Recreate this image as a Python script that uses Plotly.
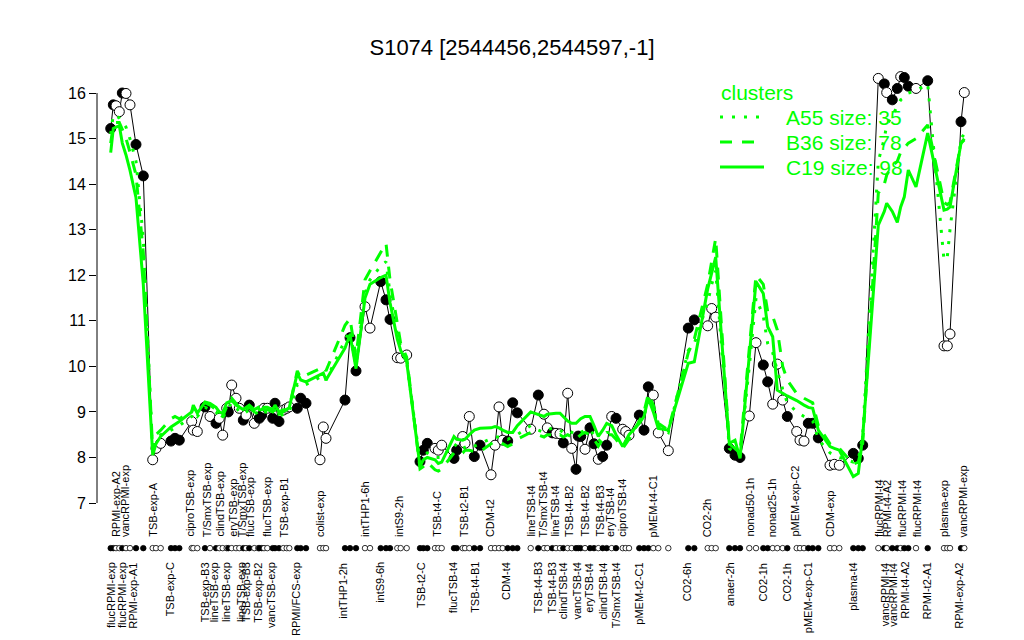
import plotly.graph_objects as go

chart_title = "S1074 [2544456,2544597,-1]"

# sample positions along the x axis (ordered as in the plot)
pos = [110.7, 113.3, 116.0, 119.3, 122.3, 126.0, 130.0, 136.0, 143.3,
       152.7, 156.0, 160.7,
       171.0, 175.0, 179.3,
       191.7, 193.3, 197.3,
       205.0, 210.0, 216.0, 219.3, 222.7, 226.7, 228.3, 231.7, 236.0, 239.3, 243.3, 246.0, 249.3,
       254.3, 258.3, 259.3, 261.7, 264.0, 267.3, 272.7, 275.0, 279.0, 283.3, 286.7, 289.3,
       297.3, 300.7, 306.0,
       320.0, 323.3, 326.0,
       345.0, 350.0, 356.0,
       365.0, 370.0,
       380.7, 386.0, 390.0,
       397.3, 400.7, 406.7,
       420.0, 423.3, 427.3,
       435.0, 438.3, 441.7,
       454.0, 456.7, 462.7, 465.0, 469.3, 474.3, 480.0,
       491.0, 495.0, 499.0, 502.7, 507.7, 512.7, 517.3,
       530.7, 538.3, 544.0, 547.3, 552.3, 556.0, 560.0, 563.3, 567.7, 571.7, 576.0, 578.3,
       580.7, 585.0, 590.0, 594.0, 598.3, 602.7, 606.7, 611.7, 616.0, 622.7, 625.7, 629.0,
       639.3, 644.0, 648.3, 653.3, 658.3, 668.3,
       688.3, 694.3,
       707.7, 711.7, 715.7,
       729.3, 735.0, 740.0,
       749.3, 756.0,
       763.3, 767.7,
       772.7, 777.3, 782.7, 787.3,
       796.7, 800.0, 804.0, 808.3, 812.7, 818.3,
       830.0, 834.3, 839.3,
       853.3, 858.3, 862.7,
       878.3, 884.3, 886.7, 892.3, 897.3, 900.7, 904.3, 908.3, 916.0, 927.7,
       944.0, 947.3, 950.0,
       961.0, 964.3]

# expression of this gene per sample
expr = [15.22, 15.74, 15.72, 15.59, 16.00, 15.99, 15.74, 14.87, 14.18,
        7.95, 8.20, 8.31,
        8.36, 8.42, 8.38,
        8.79, 8.60, 8.57,
        9.11, 8.90, 8.75, 8.86, 8.49, 9.08, 9.00, 9.59, 9.30, 9.08, 8.82, 8.93, 9.15,
        8.75, 8.97, 8.86, 8.93, 9.08, 9.08, 8.86, 9.19, 8.79, 9.04, 9.08, 9.11,
        9.08, 9.30, 9.19,
        7.95, 8.67, 8.42,
        9.26, 10.63, 9.90,
        11.31, 10.84,
        11.86, 11.46, 11.03,
        10.19, 10.18, 10.25,
        7.91, 8.16, 8.31,
        8.20, 8.16, 8.27,
        7.98, 8.16, 8.46, 8.31, 8.90, 8.02, 8.27,
        7.62, 8.27, 9.11, 8.38, 8.36, 9.20, 8.98,
        8.62, 9.37, 8.95, 8.65, 8.54, 8.53, 8.52, 8.32, 9.41, 8.20, 7.74, 8.47,
        8.46, 8.18, 8.65, 8.30, 7.96, 8.02, 8.27, 8.90, 8.86, 8.62, 8.57, 8.49,
        8.93, 8.60, 9.55, 9.37, 8.54, 8.15,
        10.84, 11.02,
        10.89, 11.27, 11.08,
        8.20, 8.05, 8.00,
        8.91, 10.52,
        10.03, 9.66,
        9.17, 10.05, 9.26, 8.90,
        8.57, 8.38, 8.36, 8.75, 8.75, 8.43,
        7.83, 7.85, 7.83,
        8.09, 7.98, 8.27,
        16.32, 16.20, 16.01, 15.85, 16.10, 16.36, 16.34, 16.15, 16.10, 16.27,
        10.45, 10.45, 10.71,
        15.37, 16.01]

# 1 = filled marker, 0 = open marker
filled = [1, 1, 0, 0, 1, 0, 0, 1, 1,
          0, 0, 0,
          1, 1, 1,
          0, 0, 0,
          1, 0, 1, 0, 0, 0, 1, 0, 0, 0, 1, 0, 1,
          0, 0, 1, 1, 0, 0, 1, 1, 1, 0, 0, 0,
          1, 1, 1,
          0, 0, 0,
          1, 1, 1,
          0, 0,
          1, 1, 1,
          0, 0, 0,
          1, 1, 1,
          0, 0, 0,
          1, 1, 0, 0, 0, 1, 1,
          0, 0, 0, 0, 1, 1, 1,
          0, 1, 0, 0, 1, 0, 0, 1, 0, 0, 1, 1,
          1, 0, 1, 1, 0, 1, 1, 0, 1, 0, 0, 0,
          1, 1, 1, 0, 0, 0,
          1, 1,
          0, 0, 0,
          1, 1, 1,
          0, 0,
          1, 1,
          0, 0, 0, 1,
          0, 0, 0, 1, 1, 1,
          0, 0, 0,
          1, 1, 1,
          0, 1, 0, 1, 1, 0, 1, 1, 0, 1,
          0, 0, 0,
          1, 0]

# cluster mean profiles
a55 = [15.1, 15.52, 15.5, 15.45, 15.36, 15.25, 14.99, 14.5, 12.8,
       8.1, 8.35, 8.5,
       8.6, 8.65, 8.7,
       8.9, 9.0, 8.9,
       9.1, 9.05, 9.0, 8.9, 8.85, 9.05, 9.1, 9.2, 9.1, 9.0, 8.95, 9.0, 9.05,
       8.95, 9.0, 8.95, 8.95, 9.0, 9.0, 8.95, 9.05, 8.9, 8.95, 8.95, 9.0,
       9.6, 9.55, 9.6,
       9.75, 9.8, 9.7,
       10.6, 10.8, 10.0,
       11.6, 11.9,
       12.2, 12.3, 11.6,
       10.7, 10.4, 10.1,
       7.9, 8.0, 8.1,
       8.0, 8.0, 8.0,
       8.3, 8.25, 8.3, 8.2, 8.2, 8.25, 8.3,
       8.4, 8.45, 8.45, 8.45, 8.4, 8.45, 8.5,
       8.7, 8.6, 8.55, 8.6, 8.65, 8.6, 8.6, 8.55, 8.6, 8.55, 8.5, 8.55,
       8.55, 8.6, 8.6, 8.5, 8.35, 8.45, 8.55, 8.55, 8.45, 8.3, 8.35, 8.45,
       8.8, 8.9, 9.35, 9.1, 8.7, 8.55,
       10.35, 10.5,
       11.4, 11.8, 12.1,
       8.2, 8.1, 8.05,
       10.0, 11.5,
       11.1, 10.5,
       10.3, 9.9, 9.5, 9.2,
       9.0, 8.95, 8.9, 8.85, 8.8, 8.4,
       8.1, 8.05, 8.0,
       7.9, 7.95, 8.5,
       14.5, 15.0, 15.3, 15.5, 15.7, 15.85, 15.9, 16.0, 16.05, 16.2,
       12.33, 12.4, 13.0,
       15.0, 15.1]

b36 = [14.9, 15.3, 15.35, 15.35, 15.2, 15.0, 14.7, 14.2, 12.5,
       8.15, 8.5, 8.6,
       8.85, 8.9, 8.85,
       9.0, 9.1, 9.0,
       9.2, 9.15, 9.05, 8.95, 8.9, 9.1, 9.2, 9.3, 9.2, 9.1, 9.0, 9.05, 9.1,
       9.0, 9.05, 9.0, 9.0, 9.05, 9.05, 9.0, 9.1, 8.95, 9.0, 9.05, 9.1,
       9.9, 9.75, 9.8,
       9.95, 10.0, 9.9,
       10.9, 11.05, 10.2,
       11.9, 12.1,
       12.5, 12.7, 11.9,
       10.9, 10.5, 10.2,
       7.75, 7.8, 7.9,
       7.73, 7.7, 7.75,
       8.1, 8.05, 8.1, 8.16, 8.16, 8.13, 8.13,
       8.3, 8.35, 8.35, 8.3, 8.24, 8.3, 8.4,
       8.55, 8.5, 8.45, 8.5, 8.5, 8.45, 8.5, 8.45, 8.5, 8.45, 8.4, 8.45,
       8.5, 8.55, 8.5, 8.4, 8.25, 8.4, 8.5, 8.5, 8.4, 8.2, 8.3, 8.4,
       8.8, 9.0, 9.4, 9.15, 8.75, 8.6,
       10.3, 10.6,
       11.8, 12.3, 12.81,
       8.3, 8.2, 8.1,
       10.4, 12.0,
       11.8, 11.2,
       11.1, 10.8, 10.0, 9.7,
       9.4, 9.35, 9.3, 9.25, 9.2, 8.7,
       8.3, 8.25, 8.2,
       7.85, 7.9, 8.3,
       13.8, 14.0, 14.2, 14.4, 14.5, 14.7, 14.8, 14.9, 15.0, 15.3,
       13.6, 13.55, 13.6,
       14.9, 15.0]

c19 = [14.69, 15.22, 15.25, 15.28, 14.9, 14.64, 14.3, 13.7, 11.8,
       8.05, 8.3, 8.46,
       8.67, 8.72, 8.79,
       9.0, 9.15, 8.97,
       9.22, 9.19, 9.1, 9.0, 8.97, 9.2, 9.22, 9.25, 9.15, 9.1, 9.05, 9.1, 9.15,
       9.05, 9.1, 9.05, 9.05, 9.1, 9.1, 9.05, 9.15, 9.0, 9.05, 9.05, 9.1,
       9.85, 9.7, 9.66,
       9.8, 9.85, 9.7,
       10.4, 10.7, 9.95,
       11.5, 11.8,
       11.95, 12.0, 11.4,
       10.6, 10.35, 10.1,
       7.8, 7.95, 8.0,
       7.95, 7.87, 7.9,
       8.46, 8.4, 8.38, 8.4, 8.5, 8.6, 8.64,
       8.65, 8.68, 8.65, 8.6, 8.55, 8.55, 8.7,
       9.0, 8.95, 8.9, 8.95, 8.97, 8.97, 8.97, 8.9, 8.8, 8.75, 8.75, 8.8,
       8.85, 8.9, 8.9, 8.7, 8.46, 8.6, 8.75, 8.7, 8.5, 8.24, 8.35, 8.5,
       8.75, 8.9, 9.3, 9.0, 8.64, 8.6,
       10.07, 10.1,
       11.7, 12.04, 12.4,
       8.31, 8.38, 7.98,
       10.3, 11.86,
       11.6, 10.87,
       10.65, 9.48, 9.41, 9.35,
       9.25, 9.2, 9.15, 9.1, 9.08, 8.6,
       8.24, 8.2, 8.16,
       7.58, 7.65, 8.46,
       13.1, 13.4, 13.58, 13.4, 13.16, 13.5, 13.72, 14.31, 13.94, 15.12,
       13.43, 13.45, 13.5,
       14.9, 14.97]

cluster_names = ["A55 size: 35", "B36 size: 78", "C19 size: 98"]
legend_title = "clusters"

top_labels = ["RPMI-exp-A2", "vancRPMI-exp", "TSB-exp-A", "ciproTSB-exp", "T/SmxTSB-exp",
              "clindTSB-exp", "eryTSB-exp", "T/SmxTSB-exp", "flucTSB-exp", "flucTSB-exp",
              "TSB-exp-B1", "colist-exp", "intTHP1-6h", "intS9-2h", "TSB-t4-C", "TSB-t2-B1",
              "CDM-t2", "lineTSB-t4", "T/SmxTSB-t4", "lineTSB-t4", "TSB-t4-B2", "TSB-t4-B2",
              "TSB-t4-B3", "eryTSB-t4", "ciproTSB-t4", "pMEM-t4-C1", "CO2-2h", "nonad50-1h",
              "nonad25-1h", "pMEM-exp-C2", "CDM-exp", "flucRPMI-t4", "RPMI-t4-A2",
              "flucRPMI-t4", "flucRPMI-t4", "plasma-exp", "vancRPMI-exp"]
top_label_pos = [116.0, 125.0, 152.7, 190.0, 206.7, 220.0, 232.7, 241.7, 250.0, 266.7,
                 284.3, 320.0, 365.0, 398.3, 436.7, 463.3, 490.0, 531.0, 543.3, 555.0,
                 568.3, 585.0, 600.0, 610.0, 621.7, 653.3, 706.7, 750.0, 771.7, 795.0,
                 830.0, 878.3, 886.7, 901.7, 916.7, 943.3, 963.3]

bottom_labels = ["flucRPMI-exp", "flucRPMI-exp", "RPMI-exp-A1", "TSB-exp-C", "TSB-exp-B3",
                 "lineTSB-exp", "lineTSB-exp", "lineTSB-exp", "TSB-exp-B3", "TSB-exp-B2",
                 "vancTSB-exp", "RPMI/FCS-exp", "intTHP1-2h", "intS9-6h", "TSB-t2-C",
                 "flucTSB-t4", "TSB-t4-B1", "CDM-t4", "TSB-t4-B3", "TSB-t4-B3", "clindTSB-t4",
                 "vancTSB-t4", "eryTSB-t4", "clindTSB-t4", "T/SmxTSB-t4", "pMEM-t2-C1",
                 "CO2-6h", "anaer-2h", "CO2-1h", "CO2-1h", "pMEM-exp-C1", "plasma-t4",
                 "vancRPMI-t4", "vancRPMI-t4", "RPMI-t4-A2", "RPMI-t2-A1", "RPMI-exp-A2"]
bottom_label_pos = [111.7, 122.7, 133.3, 170.0, 205.0, 214.0, 226.7, 241.7, 246.7, 258.3,
                    271.7, 296.7, 343.3, 380.0, 421.7, 453.3, 475.0, 506.7, 538.3, 551.7,
                    563.3, 576.7, 589.3, 602.7, 616.0, 639.3, 687.3, 730.0, 762.7, 786.7,
                    808.3, 853.3, 885.0, 893.3, 905.0, 926.7, 959.3]

y_ticks = [7, 8, 9, 10, 11, 12, 13, 14, 15, 16]

# ---------------- styling / layout ----------------
GREEN = "rgb(0,255,0)"
FONT = "Liberation Sans, Arial, Helvetica, sans-serif"
DOT_ROW_Y = 6.01
TOP_LABEL_Y = 6.23
BOTTOM_LABEL_Y = 5.72

# page has an 8px body margin: figure sized to fit the 1024x640 window
W, H = 1016, 632
OFF = 8
X0_SCREEN = 97                      # left edge of plot area in window pixels
Y16_SCREEN, PX_PER_UNIT = 93.0, 45.56
y_lo = 16 - (640 - Y16_SCREEN) / PX_PER_UNIT
y_hi = 16 + (Y16_SCREEN - OFF) / PX_PER_UNIT


def px_to_paper_x(px):
    return (px - X0_SCREEN) / (1024 - X0_SCREEN)


def px_to_paper_y(py):
    return (640 - py) / (640 - OFF)


fills = ["black" if f else "white" for f in filled]
dash_styles = ["3px,9px", "12px,10px", "solid"]

fig = go.Figure()

fig.add_trace(go.Scatter(
    x=pos, y=expr, mode="lines+markers", showlegend=False,
    line=dict(color="black", width=1),
    marker=dict(size=10, color=fills, line=dict(color="black", width=1)),
))

fig.add_trace(go.Scatter(
    x=pos, y=[DOT_ROW_Y] * len(pos), mode="markers", showlegend=False,
    marker=dict(size=5.5, color=fills, line=dict(color="black", width=0.8)),
))

for name, vals, dash in zip(cluster_names, [a55, b36, c19], dash_styles):
    fig.add_trace(go.Scatter(
        x=pos, y=vals, mode="lines", name=name, showlegend=False,
        line=dict(color=GREEN, width=3, dash=dash),
    ))

annotations = []
for lab, xp in zip(top_labels, top_label_pos):
    annotations.append(dict(x=xp, y=TOP_LABEL_Y, xref="x", yref="y", text=lab,
                            textangle=-90, showarrow=False, xanchor="center",
                            yanchor="bottom", borderpad=0,
                            font=dict(family=FONT, size=11, color="black")))
for lab, xp in zip(bottom_labels, bottom_label_pos):
    annotations.append(dict(x=xp, y=BOTTOM_LABEL_Y, xref="x", yref="y", text=lab,
                            textangle=-90, showarrow=False, xanchor="center",
                            yanchor="top", borderpad=0,
                            font=dict(family=FONT, size=11, color="black")))

# legend (drawn as text + line samples, like the R legend box)
LEG_X, LEG_TEXT_X = 720, 785
LEG_TITLE_Y, LEG_ROWS_Y = 92, [117, 142, 167]
annotations.append(dict(x=px_to_paper_x(LEG_X), y=px_to_paper_y(LEG_TITLE_Y), xref="paper",
                        yref="paper", text=legend_title, showarrow=False, xanchor="left",
                        yanchor="middle", borderpad=0,
                        font=dict(family=FONT, size=21, color=GREEN)))
shapes = [dict(type="line", xref="paper", yref="y", x0=0, x1=0, y0=7, y1=16,
               line=dict(color="black", width=1))]
for name, dash, ry in zip(cluster_names, dash_styles, LEG_ROWS_Y):
    annotations.append(dict(x=px_to_paper_x(LEG_TEXT_X), y=px_to_paper_y(ry), xref="paper",
                            yref="paper", text=name, showarrow=False, xanchor="left",
                            yanchor="middle", borderpad=0,
                            font=dict(family=FONT, size=21, color=GREEN)))
    shapes.append(dict(type="line", xref="paper", yref="paper",
                       x0=px_to_paper_x(LEG_X), x1=px_to_paper_x(LEG_X + 44),
                       y0=px_to_paper_y(ry), y1=px_to_paper_y(ry),
                       line=dict(color=GREEN, width=3, dash=dash)))

fig.update_layout(
    width=W, height=H,
    margin=dict(l=X0_SCREEN - OFF, r=0, t=0, b=0, pad=0, autoexpand=False),
    paper_bgcolor="white", plot_bgcolor="white",
    font=dict(family=FONT, color="black"),
    showlegend=False,
    title=dict(text=chart_title, x=(512 - OFF) / W, xref="container", xanchor="center",
               y=1 - (47 - OFF) / H, yref="container", yanchor="middle",
               font=dict(family=FONT, size=22, color="black")),
    xaxis=dict(range=[X0_SCREEN, 1024], visible=False),
    yaxis=dict(range=[y_lo, y_hi], tickvals=y_ticks, ticks="outside", ticklen=7,
               tickcolor="black", tickwidth=1, showgrid=False, zeroline=False,
               showline=False, tickfont=dict(family=FONT, size=16, color="black")),
    annotations=annotations,
    shapes=shapes,
)

fig.write_html("out.html")
